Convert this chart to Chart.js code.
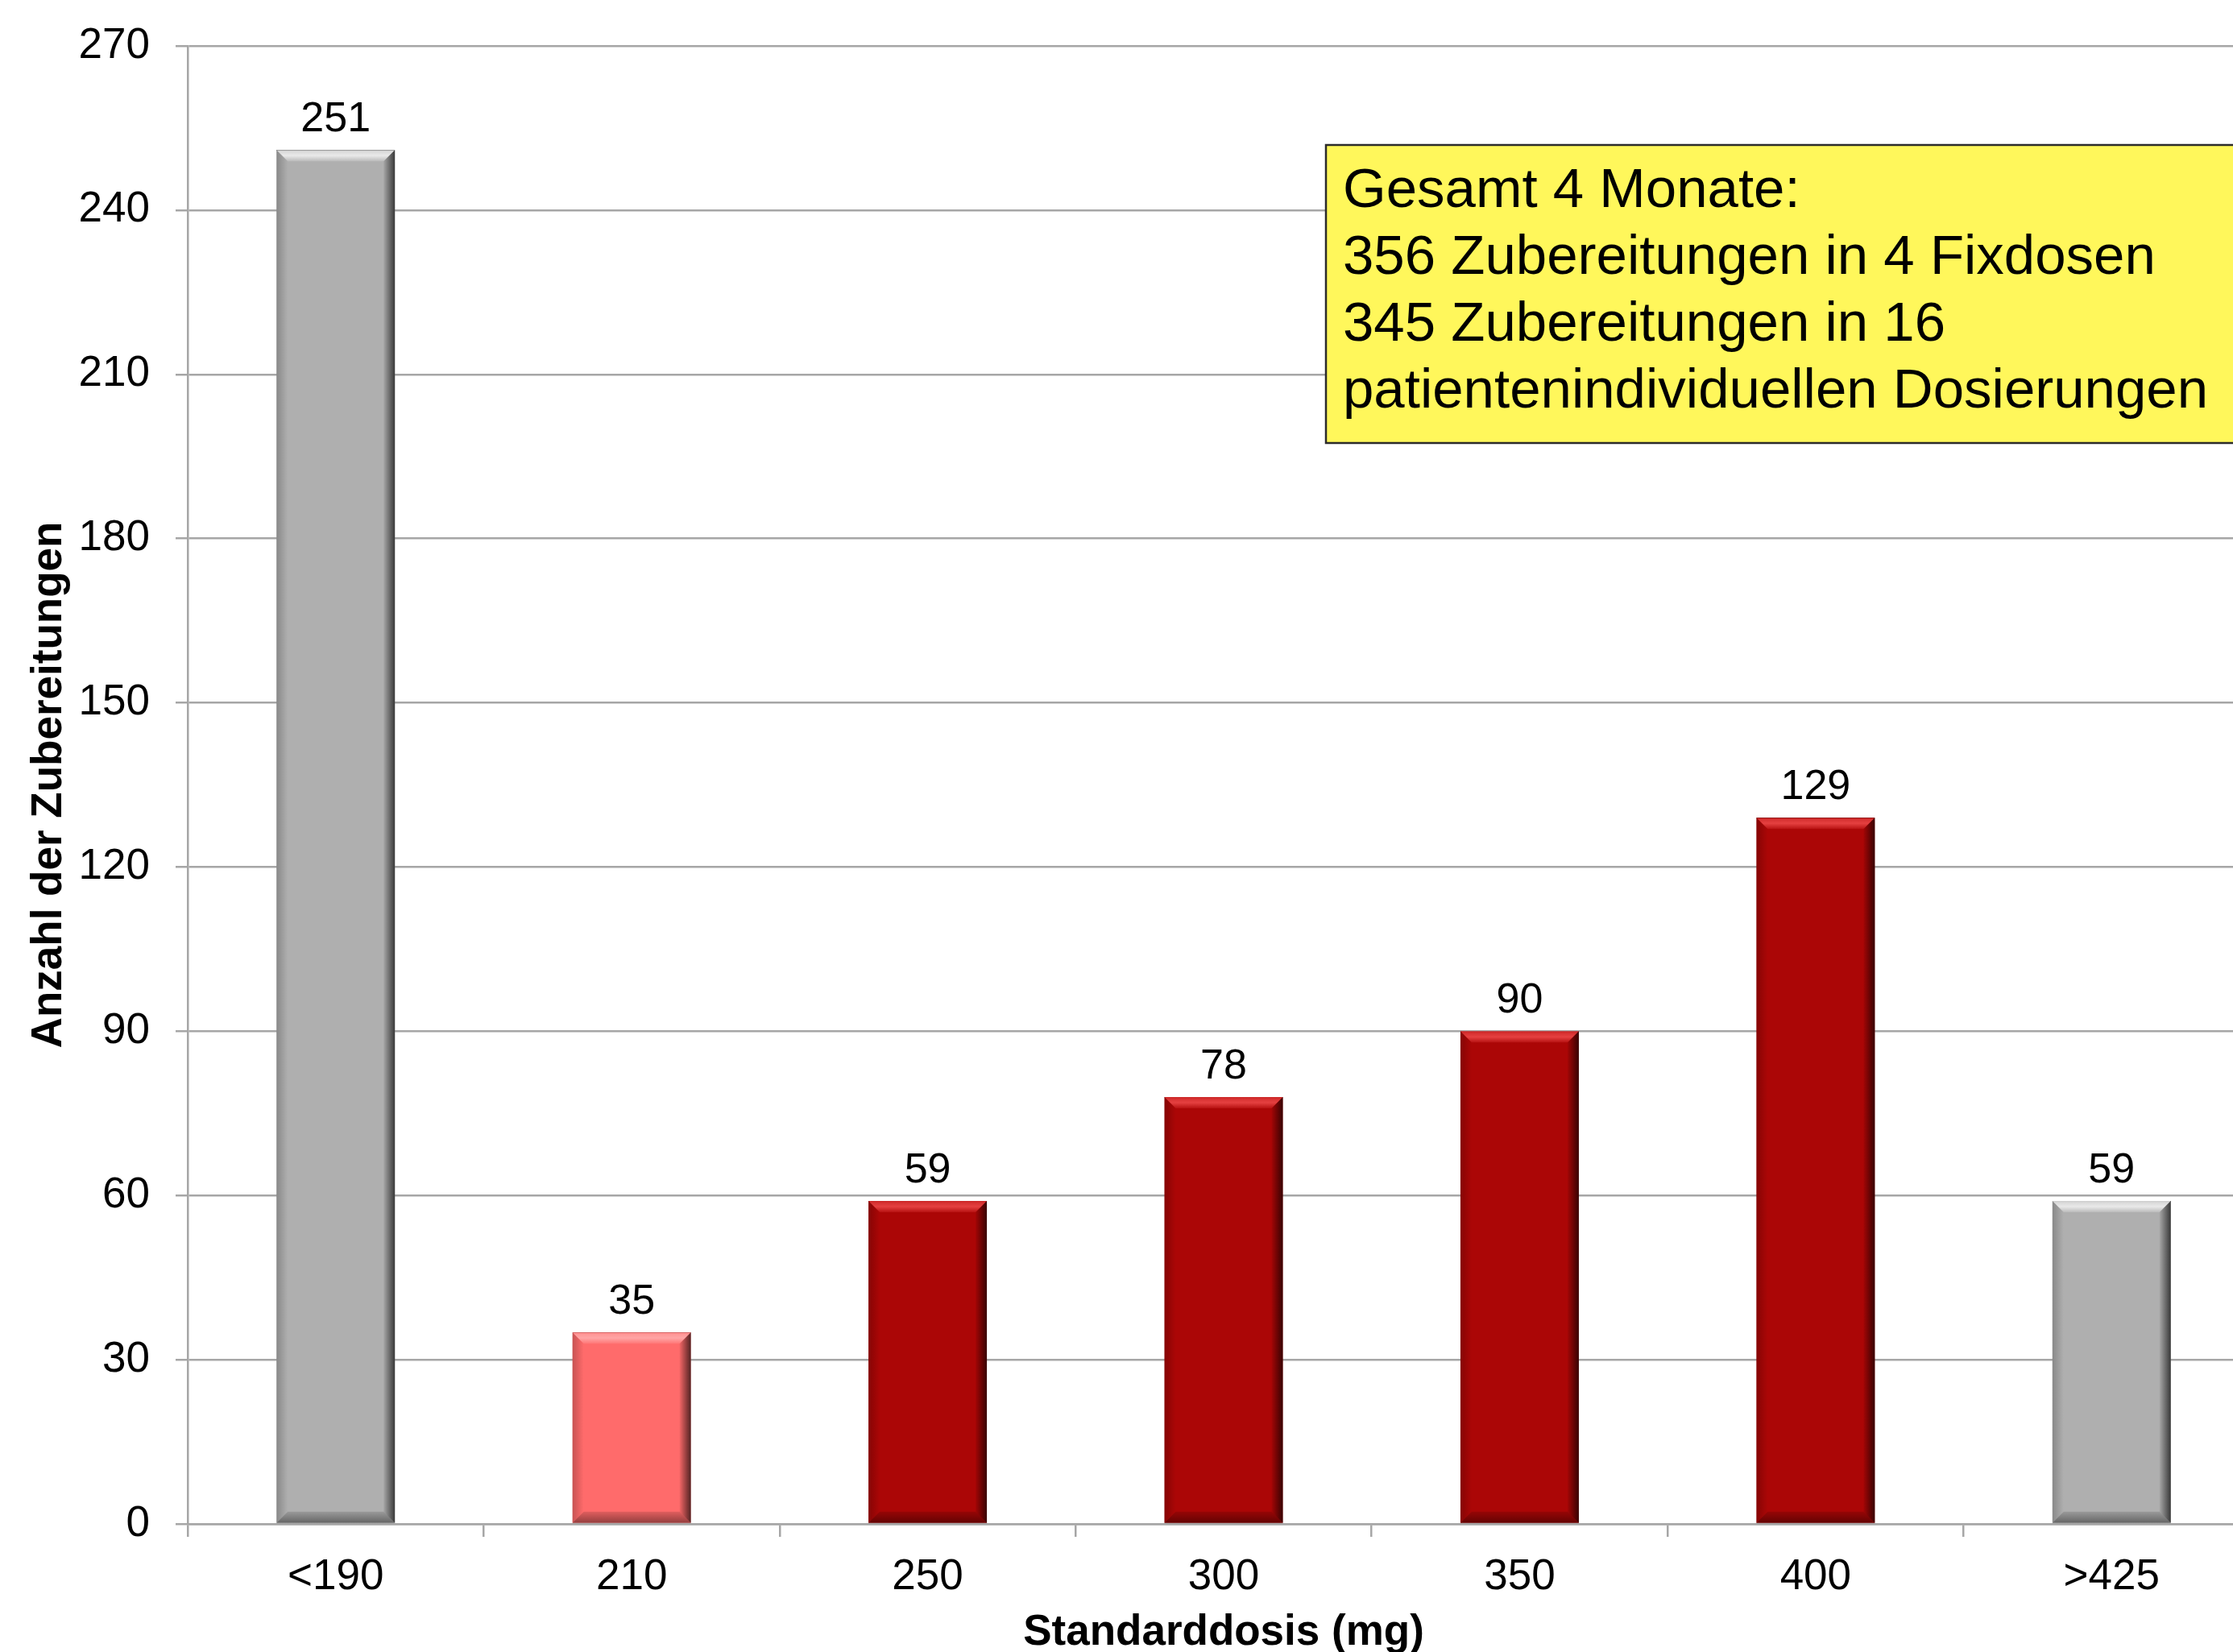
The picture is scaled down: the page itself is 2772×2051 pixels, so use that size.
<!DOCTYPE html>
<html>
<head>
<meta charset="utf-8">
<script src="https://cdn.jsdelivr.net/npm/chart.js@4.4.1/dist/chart.umd.min.js"></script>
<style>
  html, body { margin: 0; padding: 0; background: #ffffff; overflow: hidden; }
  #frame { width: 2772px; height: 2051px; overflow: hidden; position: relative; }
  canvas { display: block; }
</style>
</head>
<body>
<div id="frame"><canvas id="c" width="2810" height="2070"></canvas></div>
<script>
// Dose categories and number of preparations per category
const doseLabels = ['<190', '210', '250', '300', '350', '400', '>425'];
const preparationCounts = [251, 35, 59, 78, 90, 129, 59];
const barColors = ['#afafaf', '#ff6b6b', '#ab0606', '#ab0606', '#ab0606', '#ab0606', '#afafaf'];

// Value axis range
const yMin = 0;
const yMax = 270;
const yStep = 30;

// Summary note text
const noteLines = [
  'Gesamt 4 Monate:',
  '356 Zubereitungen in 4 Fixdosen',
  '345 Zubereitungen in 16',
  'patientenindividuellen Dosierungen'
];

const FONT = "'Liberation Sans', Arial, Helvetica, sans-serif";
const GRID = '#a6a6a6';

// Bevelled look on every bar (light top edge, dark right/bottom edges)
const bevelPlugin = {
  id: 'bevel',
  afterDatasetsDraw(chart) {
    const ctx = chart.ctx;
    const poly = (pts, fill, op) => {
      ctx.globalCompositeOperation = op || 'source-over';
      ctx.beginPath();
      ctx.moveTo(pts[0][0], pts[0][1]);
      for (let i = 1; i < pts.length; i++) ctx.lineTo(pts[i][0], pts[i][1]);
      ctx.closePath();
      ctx.fillStyle = fill;
      ctx.fill();
    };
    ctx.save();
    chart.getDatasetMeta(0).data.forEach(bar => {
      const p = bar.getProps(['x', 'y', 'base', 'width'], true);
      const l = p.x - p.width / 2, r = p.x + p.width / 2, t = p.y, b = p.base;
      const d = Math.min(14, (b - t) / 2);
      // top highlight (additive so it keeps the bar's hue)
      let g = ctx.createLinearGradient(0, t, 0, t + d);
      g.addColorStop(0, 'rgb(30,30,30)');
      g.addColorStop(0.2, 'rgb(45,45,45)');
      g.addColorStop(0.5, 'rgb(58,58,58)');
      g.addColorStop(1, 'rgb(12,12,12)');
      poly([[l, t], [r, t], [r - d, t + d], [l + d, t + d]], g, 'lighter');
      // left edge
      g = ctx.createLinearGradient(l, 0, l + d, 0);
      g.addColorStop(0, 'rgba(0,0,0,0.22)');
      g.addColorStop(1, 'rgba(0,0,0,0.0)');
      poly([[l, t], [l + d, t + d], [l + d, b - d], [l, b]], g);
      // right edge
      g = ctx.createLinearGradient(r - d, 0, r, 0);
      g.addColorStop(0, 'rgba(0,0,0,0.05)');
      g.addColorStop(1, 'rgba(0,0,0,0.68)');
      poly([[r, t], [r, b], [r - d, b - d], [r - d, t + d]], g);
      // bottom edge
      g = ctx.createLinearGradient(0, b - d, 0, b);
      g.addColorStop(0, 'rgba(0,0,0,0.12)');
      g.addColorStop(1, 'rgba(0,0,0,0.42)');
      poly([[l, b], [l + d, b - d], [r - d, b - d], [r, b]], g);
    });
    ctx.restore();
  }
};

// Value labels above the bars
const valueLabelPlugin = {
  id: 'valueLabels',
  afterDatasetsDraw(chart) {
    const ctx = chart.ctx;
    const ds = chart.data.datasets[0];
    ctx.save();
    ctx.font = `52px ${FONT}`;
    ctx.fillStyle = '#000000';
    ctx.textAlign = 'center';
    ctx.textBaseline = 'alphabetic';
    chart.getDatasetMeta(0).data.forEach((bar, i) => {
      const p = bar.getProps(['x', 'y'], true);
      ctx.fillText(String(ds.data[i]), p.x, p.y - 23);
    });
    ctx.restore();
  }
};

// Yellow summary note in the upper right
const notePlugin = {
  id: 'note',
  afterDraw(chart) {
    const ctx = chart.ctx;
    const left = 1646, top = 180, bottom = 550, right = chart.width + 20;
    ctx.save();
    ctx.fillStyle = '#fff75b';
    ctx.fillRect(left, top, right - left, bottom - top);
    ctx.lineWidth = 2.5;
    ctx.strokeStyle = '#2b2b2b';
    ctx.strokeRect(left, top, right - left, bottom - top);
    ctx.font = `69px ${FONT}`;
    ctx.fillStyle = '#000000';
    ctx.textAlign = 'left';
    ctx.textBaseline = 'alphabetic';
    noteLines.forEach((line, i) => {
      ctx.fillText(line, left + 21, 257 + i * 83);
    });
    ctx.restore();
  }
};

new Chart(document.getElementById('c'), {
  type: 'bar',
  data: {
    labels: doseLabels,
    datasets: [{
      data: preparationCounts,
      backgroundColor: barColors,
      borderWidth: 0,
      categoryPercentage: 1.0,
      barPercentage: 0.40
    }]
  },
  options: {
    responsive: false,
    animation: false,
    devicePixelRatio: 1,
    layout: { padding: { top: 57, left: 0, right: 5, bottom: 0 } },
    plugins: {
      legend: { display: false },
      tooltip: { enabled: false }
    },
    scales: {
      x: {
        offset: true,
        grid: {
          offset: true,
          drawOnChartArea: false,
          drawTicks: true,
          tickLength: 16,
          color: GRID,
          lineWidth: 2.5
        },
        border: { display: true, color: GRID, width: 2.5 },
        ticks: {
          color: '#000000',
          font: { family: FONT, size: 53 },
          padding: 19,
          maxRotation: 0,
          autoSkip: false
        },
        title: {
          display: true,
          text: 'Standarddosis (mg)',
          color: '#000000',
          font: { family: FONT, size: 53, weight: 'bold' },
          padding: { top: 0, bottom: 11 }
        },
        afterFit(scale) { scale.height = 178; }
      },
      y: {
        min: yMin,
        max: yMax,
        grid: {
          color: GRID,
          lineWidth: 2.5,
          drawTicks: true,
          tickLength: 15
        },
        border: { display: true, color: GRID, width: 2.5 },
        ticks: {
          stepSize: yStep,
          color: '#000000',
          font: { family: FONT, size: 53 },
          padding: 32
        },
        title: {
          display: true,
          text: 'Anzahl der Zubereitungen',
          color: '#000000',
          font: { family: FONT, size: 53, weight: 'bold' },
          padding: { top: 30, bottom: 0 }
        },
        afterFit(scale) {
          scale.width = 233;
          scale.paddingTop = 0;
          scale.paddingBottom = 0;
        }
      }
    }
  },
  plugins: [bevelPlugin, valueLabelPlugin, notePlugin]
});
</script>
</body>
</html>
